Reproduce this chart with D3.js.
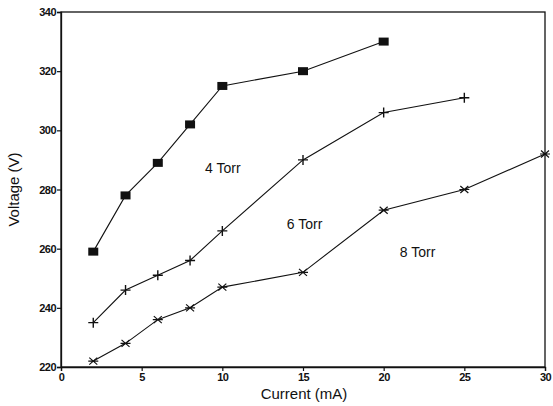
<!DOCTYPE html>
<html>
<head>
<meta charset="utf-8">
<script src="https://cdn.jsdelivr.net/npm/d3@7"></script>
<style>
  body { margin: 0; background: #fff; }
  svg { display: block; }
  text { font-family: "Liberation Sans", Arial, sans-serif; fill: #111; }
</style>
</head>
<body>
<script>
// Dati
const current = [2, 4, 6, 8, 10, 15, 20, 25, 30];
const volt4 = [259, 278, 289, 302, 315, 320, 330];
const volt6 = [235, 246, 251, 256, 266, 290, 306, 311];
const volt8 = [222, 228, 236, 240, 247, 252, 273, 280, 292];
const seriesNames = ["4 Torr", "6 Torr", "8 Torr"];
const xTicks = [0, 5, 10, 15, 20, 25, 30];
const yTicks = [220, 240, 260, 280, 300, 320, 340];

const width = 553, height = 406;
const margin = { left: 61, right: 8, top: 12, bottom: 39 };

const svg = d3.select("body").append("svg")
  .attr("width", width)
  .attr("height", height);

const x = d3.scaleLinear().domain([0, 30]).range([margin.left, width - margin.right]);
const y = d3.scaleLinear().domain([220, 340]).range([height - margin.bottom, margin.top]);

// Cornice
svg.append("rect")
  .attr("x", x(0)).attr("y", y(340))
  .attr("width", x(30) - x(0)).attr("height", y(220) - y(340))
  .attr("fill", "none").attr("stroke", "#111").attr("stroke-width", 1.3);

// Assi
const xAxis = svg.append("g")
  .attr("transform", "translate(0," + y(220) + ")")
  .call(d3.axisBottom(x).tickValues(xTicks).tickSize(4).tickPadding(2));
const yAxis = svg.append("g")
  .attr("transform", "translate(" + x(0) + ",0)")
  .call(d3.axisLeft(y).tickValues(yTicks).tickSize(4).tickPadding(1));

[xAxis, yAxis].forEach(function (a) {
  a.select(".domain").attr("stroke", "#111").attr("stroke-width", 1.3);
  a.selectAll(".tick line").attr("stroke", "#111").attr("stroke-width", 1.2);
  a.selectAll(".tick text")
    .style("font-size", "11px")
    .style("font-weight", "bold")
    .style("letter-spacing", "-0.5px")
    .attr("fill", "#111");
});

// Titoli degli assi
svg.append("text")
  .attr("x", (x(0) + x(30)) / 2 + 1)
  .attr("y", 399)
  .attr("text-anchor", "middle")
  .style("font-size", "15px")
  .text("Current (mA)");

svg.append("text")
  .attr("transform", "translate(19," + y(280) + ") rotate(-90)")
  .attr("text-anchor", "middle")
  .style("font-size", "15px")
  .text("Voltage (V)");

// Serie
const series = [volt4, volt6, volt8].map(function (v, i) {
  return { name: seriesNames[i], points: v.map(function (d, j) { return [current[j], d]; }) };
});

const line = d3.line().x(d => x(d[0])).y(d => y(d[1]));

series.forEach(function (s, i) {
  svg.append("path")
    .attr("d", line(s.points))
    .attr("fill", "none")
    .attr("stroke", "#111")
    .attr("stroke-width", 1.1);

  const g = svg.append("g");
  s.points.forEach(function (p) {
    const cx = x(p[0]), cy = y(p[1]);
    if (i === 0) {
      g.append("rect")
        .attr("x", cx - 5).attr("y", cy - 4)
        .attr("width", 10).attr("height", 8)
        .attr("fill", "#111");
    } else if (i === 1) {
      g.append("path")
        .attr("d", "M" + (cx - 5) + "," + cy + "H" + (cx + 5) + "M" + cx + "," + (cy - 5) + "V" + (cy + 5))
        .attr("stroke", "#111").attr("stroke-width", 1.4);
    } else {
      g.append("path")
        .attr("d", "M" + (cx - 4) + "," + (cy - 3.5) + "L" + (cx + 4) + "," + (cy + 3.5) +
          "M" + (cx - 4) + "," + (cy + 3.5) + "L" + (cx + 4) + "," + (cy - 3.5) +
          "M" + (cx - 5) + "," + cy + "H" + (cx + 5))
        .attr("stroke", "#111").attr("stroke-width", 1.2);
    }
  });
});

// Etichette delle serie
const labelPos = [[8.93, 285.6], [14.0, 266.6], [21.0, 257.2]];
series.forEach(function (s, i) {
  svg.append("text")
    .attr("x", x(labelPos[i][0]))
    .attr("y", y(labelPos[i][1]))
    .style("font-size", "14px")
    .text(s.name);
});
</script>
</body>
</html>
